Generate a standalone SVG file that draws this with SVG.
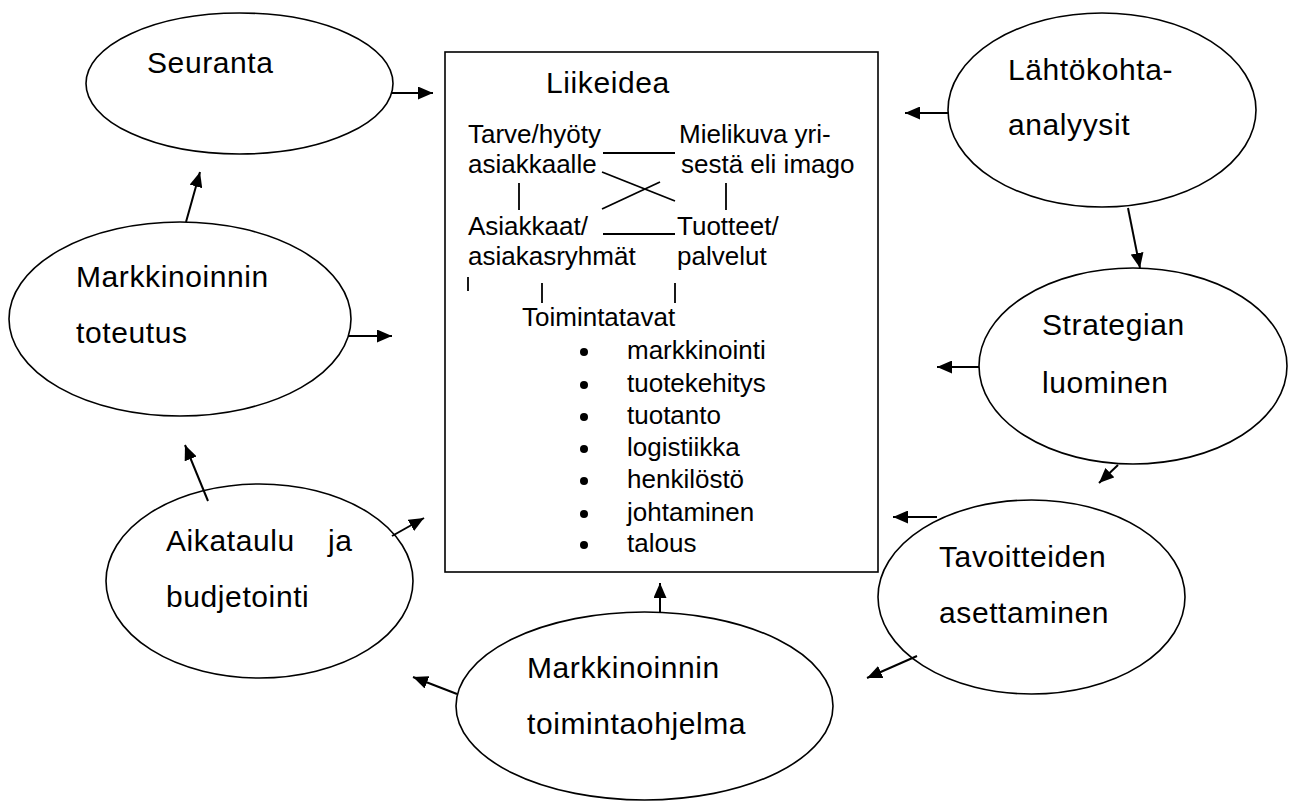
<svg xmlns="http://www.w3.org/2000/svg" width="1289" height="803" viewBox="0 0 1289 803">
<style>
.e{fill:#fff;stroke:#000;stroke-width:1.6}
.big{font-family:"Liberation Sans",Arial,sans-serif;font-size:30px;letter-spacing:0.6px;fill:#000}
.sm{font-family:"Liberation Sans",Arial,sans-serif;font-size:26px;fill:#000}
.ln{stroke:#000;stroke-width:1.8;fill:none}
.ar{stroke:#000;stroke-width:2;fill:none;marker-end:url(#ah)}
</style>
<defs>
<marker id="ah" markerUnits="userSpaceOnUse" markerWidth="15" markerHeight="13" refX="15" refY="6.5" orient="auto">
<path d="M0,0 L15,6.5 L0,13 z" fill="#000"/>
</marker>
</defs>
<rect width="1289" height="803" fill="#fff"/>
<g id="liikeidea">
<rect x="445" y="52" width="433" height="520" fill="#fff" stroke="#000" stroke-width="1.6"/>
<text class="big" x="546" y="93">Liikeidea</text>
<text class="sm" x="468" y="143">Tarve/hyöty</text>
<text class="sm" x="468" y="173">asiakkaalle</text>
<text class="sm" x="679" y="143">Mielikuva yri-</text>
<text class="sm" x="681" y="173">sestä eli imago</text>
<text class="sm" x="468" y="235">Asiakkaat/</text>
<text class="sm" x="468" y="265">asiakasryhmät</text>
<text class="sm" x="677" y="235">Tuotteet/</text>
<text class="sm" x="677" y="265">palvelut</text>
<text class="sm" x="522" y="326">Toimintatavat</text>
<g class="ln">
<line x1="603" y1="153" x2="675" y2="153"/>
<line x1="602" y1="172" x2="675" y2="201"/>
<line x1="602" y1="209" x2="660" y2="182"/>
<line x1="519" y1="183" x2="519" y2="210"/>
<line x1="726" y1="183" x2="726" y2="210"/>
<line x1="603" y1="234" x2="675" y2="234"/>
<line x1="468" y1="277" x2="468" y2="291"/>
<line x1="542" y1="283" x2="542" y2="303"/>
<line x1="675" y1="283" x2="675" y2="303"/>
</g>
<g fill="#000">
<circle cx="584" cy="352" r="4"/>
<circle cx="584" cy="385" r="4"/>
<circle cx="584" cy="417" r="4"/>
<circle cx="584" cy="449" r="4"/>
<circle cx="584" cy="481" r="4"/>
<circle cx="584" cy="514" r="4"/>
<circle cx="584" cy="545" r="4"/>
</g>
<text class="sm" x="627" y="359">markkinointi</text>
<text class="sm" x="627" y="392">tuotekehitys</text>
<text class="sm" x="627" y="424">tuotanto</text>
<text class="sm" x="627" y="456">logistiikka</text>
<text class="sm" x="627" y="488">henkilöstö</text>
<text class="sm" x="627" y="521">johtaminen</text>
<text class="sm" x="627" y="552">talous</text>
</g>
<g id="seuranta">
<ellipse class="e" cx="239.5" cy="83.5" rx="153.5" ry="70.5"/>
<text class="big" x="147" y="73">Seuranta</text>
</g>
<g id="toteutus">
<ellipse class="e" cx="180" cy="319" rx="171" ry="97"/>
<text class="big" x="76" y="287">Markkinoinnin</text>
<text class="big" x="76" y="343">toteutus</text>
</g>
<g id="aikataulu">
<ellipse class="e" cx="259.5" cy="581" rx="153.5" ry="97"/>
<text class="big" x="166" y="551">Aikataulu</text>
<text class="big" x="328" y="551">ja</text>
<text class="big" x="166" y="607">budjetointi</text>
</g>
<g id="toimintaohjelma">
<ellipse class="e" cx="644.5" cy="706" rx="188.5" ry="94"/>
<text class="big" x="527" y="678">Markkinoinnin</text>
<text class="big" x="527" y="734">toimintaohjelma</text>
</g>
<g id="lahtokohta">
<ellipse class="e" cx="1102" cy="110" rx="154" ry="97"/>
<text class="big" x="1008" y="80">Lähtökohta-</text>
<text class="big" x="1008" y="135">analyysit</text>
</g>
<g id="strategian">
<ellipse class="e" cx="1133" cy="366" rx="154" ry="98"/>
<text class="big" x="1042" y="335">Strategian</text>
<text class="big" x="1042" y="393">luominen</text>
</g>
<g id="tavoitteiden">
<ellipse class="e" cx="1031.5" cy="597" rx="153.5" ry="97"/>
<text class="big" x="939" y="567">Tavoitteiden</text>
<text class="big" x="939" y="623">asettaminen</text>
</g>
<g id="connectors">
<line class="ar" x1="391" y1="93" x2="433" y2="93"/>
<line class="ar" x1="186" y1="222" x2="200" y2="172"/>
<line class="ar" x1="348" y1="336" x2="392" y2="336"/>
<line class="ar" x1="208" y1="501" x2="185" y2="445"/>
<line class="ar" x1="392" y1="536" x2="424" y2="518"/>
<line class="ar" x1="457" y1="694" x2="413" y2="677"/>
<line class="ar" x1="660" y1="612" x2="660" y2="583"/>
<line class="ar" x1="948" y1="113" x2="905" y2="113"/>
<line class="ar" x1="1128" y1="208" x2="1140" y2="268"/>
<line class="ar" x1="979" y1="367" x2="937" y2="367"/>
<line class="ar" x1="1118" y1="465" x2="1099" y2="483"/>
<line class="ar" x1="937" y1="517" x2="893" y2="517"/>
<line class="ar" x1="917" y1="656" x2="867" y2="678"/>
</g>
</svg>
